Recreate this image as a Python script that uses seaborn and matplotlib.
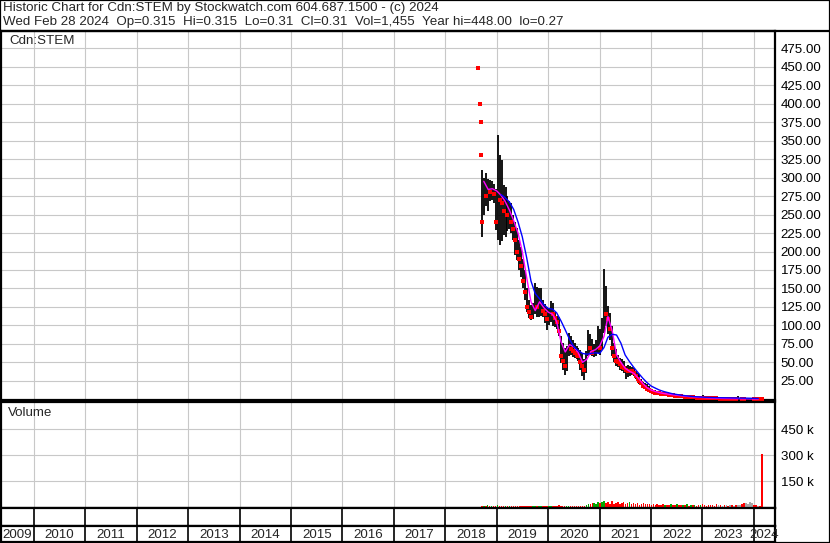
import numpy as np
import pandas as pd
import matplotlib
matplotlib.use("Agg")
import matplotlib.pyplot as plt
from matplotlib.lines import Line2D
import seaborn as sns

# --- data (Cdn:STEM, bi-weekly bars) ---
bar_start = "2018-09-17"
high = [
    310, 300, 306, 298, 297, 296, 292, 285, 358, 330,
    324, 290, 288, 275, 268, 265, 250, 240, 232, 215,
    206, 190, 175, 150, 134, 128, 130, 157, 152, 150,
    151, 135, 129, 125, 122, 133, 130, 118, 113, 112,
    85, 76, 70, 72, 90, 85, 80, 76, 72, 70,
    67, 62, 55, 66, 94, 88, 81, 75, 80, 99,
    95, 110, 176, 153, 126, 117, 99, 76, 68, 60,
    56, 54, 52, 45, 46, 45, 44, 42, 38, 36,
    34, 28, 24, 22, 20, 18, 14, 13, 12, 11,
    10, 9.5, 9, 9, 8.5, 8, 7.5, 7, 7, 6.5,
    6, 5.5, 5, 5, 4.5, 4, 4, 3.5, 3.5, 3,
    3, 4, 5.5, 3, 2.5, 2.2, 2, 2, 1.8, 1.7,
    1.6, 1.5, 1.5, 1.4, 1.3, 1.2, 1.2, 1.1, 1.1, 1.0,
    4.5, 1.0, 0.9, 0.8, 0.8, 0.75, 0.7, 0.7, 0.65, 0.6,
    2.2, 0.5, 0.45]
low = [
    219, 250, 262, 255, 268, 270, 266, 229, 215, 209,
    214, 222, 220, 228, 230, 225, 215, 195, 188, 175,
    166, 150, 135, 118, 110, 107, 108, 115, 112, 111,
    113, 112, 103, 94, 100, 104, 99, 98, 95, 85,
    49, 40, 33, 38, 58, 60, 57, 56, 54, 52,
    40, 32, 26, 35, 58, 62, 58, 57, 58, 62,
    60, 68, 90, 99, 88, 80, 59, 50, 45, 44,
    40, 38, 36, 27, 30, 32, 33, 31, 28, 24,
    20, 19, 16, 14, 12, 11, 9, 8, 7.5, 7,
    6.5, 6, 6, 5.5, 5.5, 5, 5, 4.5, 4.5, 4,
    4, 3.5, 3.5, 3, 3, 2.5, 2.5, 2, 2, 1.8,
    1.8, 1.6, 1.5, 1.5, 1.4, 1.2, 1.2, 1, 1, 0.9,
    0.9, 0.8, 0.8, 0.7, 0.7, 0.6, 0.6, 0.6, 0.5, 0.5,
    0.5, 0.5, 0.45, 0.45, 0.4, 0.4, 0.35, 0.35, 0.33, 0.3,
    0.3, 0.28, 0.27]
close = [
    240, 290, 275, 285, 280, 282, 278, 240, 300, 270,
    265, 255, 262, 250, 258, 240, 230, 215, 200, 190,
    180, 160, 145, 125, 118, 112, 120, 135, 125, 128,
    132, 120, 115, 108, 112, 125, 115, 110, 105, 92,
    58, 52, 45, 60, 72, 68, 66, 62, 60, 58,
    50, 45, 40, 55, 75, 70, 62, 63, 68, 85,
    70, 95, 140, 115, 108, 95, 70, 58, 52, 50,
    48, 44, 42, 40, 38, 40, 38, 36, 32, 28,
    25, 22, 18, 16, 14, 12, 11, 10, 9, 8.5,
    8, 7.5, 7, 7.2, 6.5, 6, 6.2, 5.5, 5, 5.1,
    4.5, 4, 4.1, 3.5, 3.6, 3, 3.1, 2.5, 2.6, 2.2,
    2, 2.1, 2, 1.8, 1.6, 1.5, 1.4, 1.3, 1.2, 1.1,
    1.1, 1.0, 1.0, 0.9, 0.9, 0.8, 0.8, 0.7, 0.7, 0.6,
    0.6, 0.6, 0.55, 0.5, 0.5, 0.5, 0.5, 0.5, 0.4, 0.35,
    0.35, 0.32, 0.31]
volume_k = [
    7, 9, 6, 10, 7, 5, 7, 9, 11, 8, 6, 7, 5, 7, 9, 6, 7, 5, 7, 9,
    6, 7, 5, 6, 7, 9, 6, 5, 7, 6, 9, 7, 5, 6, 7, 6, 5, 7, 9, 11,
    7, 6, 5, 7, 6, 7, 9, 6, 5, 7, 6, 9, 7, 11, 16,
    18, 22, 26, 19, 30, 21, 32, 36, 25, 29, 20, 33, 18, 24, 30, 16, 22, 27, 18, 21,
    28, 16, 24, 18, 22, 14, 20, 26, 16, 18, 20,
    12, 16, 10, 18, 14, 12, 20, 10, 14, 12, 16, 10, 12, 18, 10, 14, 12, 10, 16, 8,
    12, 10, 14, 8, 12, 10, 18, 12, 8, 14, 10, 12, 8, 16, 10, 12, 8, 10, 14, 8,
    12, 10, 8, 12, 10,
    12, 16, 22, 26, 20, 27, 22, 12, 10, 8, 8,
    305]

# first trading days: closes only
ipo_dates = ["2018-08-24", "2018-09-03", "2018-09-08", "2018-09-10"]
ipo_close = [448, 400, 375, 330]

# moving averages (monthly readings)
ma_short_start = "2018-10-01"
ma_short = [295, 284, 285,
            282, 276, 268, 256, 242, 225, 200, 165, 132, 120, 132, 124,
            118, 115, 105, 78, 64, 74, 71, 63, 50, 54, 65, 67,
            72, 85, 112, 92, 60, 50, 42, 38, 35, 29, 22, 16,
            12.5, 10.5, 9, 7.8, 7, 6.2, 5.5, 4.8, 4.2, 3.6, 3.1, 2.6,
            2.4, 2.0, 1.7, 1.5, 1.3, 1.1, 1.0, 0.9, 0.8, 0.7, 0.6, 0.5,
            0.45, 0.4]
ma_long_start = "2019-02-01"
ma_long = [277, 273, 267, 257, 240, 220, 192, 160, 143, 136, 128,
           123, 122, 117, 106, 94, 81, 71, 66, 62, 61, 62, 63,
           62, 70, 84, 88, 87, 76, 60, 51, 43, 36, 29, 23,
           18, 15, 12.5, 10.5, 9, 7.5, 6.5, 5.6, 4.8, 4.2, 3.6, 3.2,
           2.9, 2.6, 2.4, 2.2, 2.1, 2.0, 1.9, 1.8, 1.7, 1.6, 1.5, 1.4,
           1.2, 1.0]

price_ticks = list(range(25, 500, 25))
vol_ticks = [150, 300, 450]
year_labels = list(range(2009, 2025))

header1 = "Historic Chart for Cdn:STEM by Stockwatch.com 604.687.1500 - (c) 2024"
header2 = ("Wed Feb 28 2024  Op=0.315  Hi=0.315  Lo=0.31  Cl=0.31  "
           "Vol=1,455  Year hi=448.00  lo=0.27")


def dec_year(idx):
    idx = pd.DatetimeIndex(idx)
    return np.asarray(idx.year + (idx.dayofyear - 1) / 365.25, dtype=float)


high = np.array(high, float)
low = np.array(low, float)
close = np.array(close, float)
volume_k = np.array(volume_k, float)
t = dec_year(pd.date_range(bar_start, periods=len(close), freq="14D"))
t_short = dec_year(pd.date_range(ma_short_start, periods=len(ma_short), freq="MS"))
t_long = dec_year(pd.date_range(ma_long_start, periods=len(ma_long), freq="MS"))
t_ipo = dec_year(ipo_dates)

prev = np.concatenate([[np.inf], close[:-1]])
down = close < prev
up = close > prev
vol_colors = np.where(down, "#ff0000", np.where(up, "#00a800", "#a8a8a8"))

# --- figure ---
sns.set_theme(style="white")
plt.rcParams["font.family"] = ["Liberation Sans", "DejaVu Sans"]
FS = 9.6
W, H = 830, 543
fig = plt.figure(figsize=(W / 100, H / 100), dpi=100)


def rect(x0, y0, x1, y1):
    return [x0 / W, 1 - y1 / H, (x1 - x0) / W, (y1 - y0) / H]


ax = fig.add_axes(rect(1, 31, 775, 400))
axv = fig.add_axes(rect(1, 402, 775, 508))
axe = fig.add_axes(rect(1, 508, 775, 526))
axy = fig.add_axes(rect(1, 526, 775, 542))

XL = (2009.36, 2024.41)
grid_c = "#c8c8c8"

# price panel
ax.vlines(t, low, high, color="black", lw=1.3, zorder=3)
sns.scatterplot(x=t[down], y=close[down], marker="s", s=8, color="red",
                linewidth=0, ax=ax, zorder=4)
sns.scatterplot(x=t_ipo, y=ipo_close, marker="s", s=7, color="red",
                linewidth=0, ax=ax, zorder=4)
sns.lineplot(x=t_short, y=ma_short, color="#ff00ff", lw=1, ax=ax, zorder=5)
sns.lineplot(x=t_long, y=ma_long, color="#0000ff", lw=1, ax=ax, zorder=6)
ax.set_ylim(-1, 498.5)
ax.set_yticks(price_ticks)
ax.set_yticklabels([f"{v:.2f}" for v in price_ticks])

# volume panel
axv.bar(t, volume_k, width=0.03, color=vol_colors, linewidth=0, zorder=3)
axv.set_ylim(-5, 606)
axv.set_yticks(vol_ticks)
axv.set_yticklabels([f"{v} k" for v in vol_ticks])

for a in (ax, axv):
    a.set_xlim(*XL)
    a.set_xticks(range(2010, 2025))
    a.set_xticklabels([])
    a.yaxis.tick_right()
    a.tick_params(axis="both", length=0, pad=4, labelsize=FS, colors="black")
    a.grid(True, color=grid_c, lw=0.8)
    a.set_axisbelow(True)
    a.set_xlabel("")
    a.set_ylabel("")

for a in (axe, axy):
    a.set_xlim(*XL)
    a.set_ylim(0, 1)
    a.set_xticks([])
    a.set_yticks([])
    for yr in range(2010, 2025):
        a.axvline(yr, color="black", lw=1.2)

pos = [(XL[0] + 2010) / 2] + [y + 0.5 for y in range(2010, 2024)] + [(2024 + XL[1]) / 2]
for yr, x in zip(year_labels, pos):
    axy.text(x, 0.45, str(yr), ha="center", va="center", fontsize=FS)

for a in (ax, axv, axe, axy):
    for s in a.spines.values():
        s.set_color("black")
        s.set_linewidth(1.6)

fig.text(3 / W, 1 - 8 / H, header1, ha="left", va="center", fontsize=FS)
fig.text(3 / W, 1 - 21.5 / H, header2, ha="left", va="center", fontsize=FS)
fig.text(9 / W, 1 - 41.5 / H, "Cdn:STEM", ha="left", va="center", fontsize=FS)
fig.text(8 / W, 1 - 413 / H, "Volume", ha="left", va="center", fontsize=FS)

fig.add_artist(Line2D([0, 1], [1 - 31 / H] * 2, color="black", lw=1.6,
                      transform=fig.transFigure))
fig.add_artist(plt.Rectangle((0, 0), 1, 1, transform=fig.transFigure,
                             fill=False, edgecolor="black", lw=1.6))

fig.savefig("out.png", dpi=100, facecolor="white")
